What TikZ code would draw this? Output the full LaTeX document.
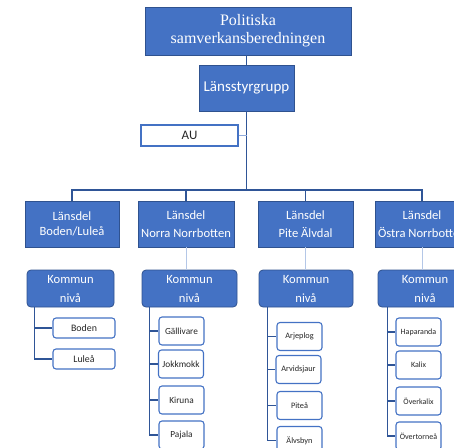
\documentclass[tikz,border=0pt]{standalone}
\usepackage{fontspec}
\setmainfont{Liberation Serif}
\newfontfamily\calibri{Carlito}

\definecolor{boxblue}{HTML}{4472C4}
\definecolor{edgeblue}{HTML}{2F528F}
\definecolor{lineblue}{HTML}{2F5597}
\definecolor{paleline}{HTML}{B4C7E7}
\definecolor{auline}{HTML}{8FAADC}
\definecolor{txtgrey}{HTML}{262626}

\tikzset{
	bluebox/.style={draw=edgeblue, fill=boxblue, line width=0.8pt, text=white, align=center, inner sep=0pt, minimum width=94pt, minimum height=46pt, font=\calibri\fontsize{12.6}{18}\selectfont},
	kommunbox/.style={bluebox, rounded corners=4pt, minimum width=94pt, minimum height=37pt, font=\calibri\fontsize{12.6}{19}\selectfont},
	ortbox/.style={draw=boxblue, fill=white, line width=1.1pt, rounded corners=3pt, inner sep=0pt, text=txtgrey, minimum width=45pt, minimum height=28pt},
	link/.style={draw=lineblue, line width=1.2pt},
	palelink/.style={draw=paleline, line width=0.8pt},
}

\begin{document}
\begin{tikzpicture}[x=1pt,y=1pt,yscale=-1,xscale=1]
			\useasboundingbox (0,0) rectangle (454,447);
			\clip (0,0) rectangle (454,447);
			
			%Shape: Rectangle [top]
			\node [bluebox, minimum width=206pt, minimum height=48pt, font=\fontsize{16}{18}\selectfont] (pol) at (248,31) {Politiska\\samverkansberedningen};
			\node [bluebox, minimum width=95pt, minimum height=46pt, font=\calibri\fontsize{15}{18}\selectfont] (lsg) at (246.5,88) {Länsstyrgrupp};
			\node [draw=boxblue, line width=1.1pt, minimum width=97pt, minimum height=21pt, inner sep=0pt, text=txtgrey, font=\calibri\fontsize{13}{15}\selectfont] (au) at (189.5,135.5) {AU};
			
			%Shape: Rectangle [Länsdel]
			\node [bluebox, font=\calibri\fontsize{12.6}{15.5}\selectfont] (ld1) at (72,224) {Länsdel\\Boden/Luleå};
			\node [bluebox, minimum width=96pt] (ld2) at (186,224) {Länsdel\\Norra Norrbotten};
			\node [bluebox, minimum width=95pt] (ld3) at (305.5,224) {Länsdel\\Pite Älvdal};
			\node [bluebox] (ld4) at (422,224) {Länsdel\\Östra Norrbotten};
			
			%Shape: Rounded Rect [Kommun nivå]
			\node [kommunbox, minimum width=87pt] (km1) at (70.5,288.5) {Kommun\\nivå};
			\node [kommunbox, minimum width=95pt] (km2) at (189.5,288.5) {Kommun\\nivå};
			\node [kommunbox] (km3) at (306,288.5) {Kommun\\nivå};
			\node [kommunbox] (km4) at (425,288.5) {Kommun\\nivå};
			
			%Shape: Rounded Rect [kommuner]
			\node [ortbox, minimum width=62pt, minimum height=20pt, font=\calibri\fontsize{9.9}{11}\selectfont] (boden) at (84,328) {Boden};
			\node [ortbox, minimum width=62pt, minimum height=20pt, font=\calibri\fontsize{9.9}{11}\selectfont] (lulea) at (84,359) {Luleå};
			
			\node [ortbox, font=\calibri\fontsize{9.3}{11}\selectfont] (galli) at (181.5,331) {Gällivare};
			\node [ortbox, font=\calibri\fontsize{9.3}{11}\selectfont] (jokk) at (181,364) {Jokkmokk};
			\node [ortbox, font=\calibri\fontsize{9.3}{11}\selectfont] (kiru) at (181.5,400) {Kiruna};
			\node [ortbox, font=\calibri\fontsize{9.3}{11}\selectfont] (paja) at (181.5,435) {Pajala};
			
			\node [ortbox, font=\calibri\fontsize{8.3}{10}\selectfont] (arje) at (299.5,336.5) {Arjeplog};
			\node [ortbox, font=\calibri\fontsize{8.3}{10}\selectfont] (arvi) at (298.5,369.5) {Arvidsjaur};
			\node [ortbox, font=\calibri\fontsize{8.3}{10}\selectfont] (pitea) at (299.5,405.5) {Piteå};
			\node [ortbox, font=\calibri\fontsize{8.3}{10}\selectfont] (alvs) at (299.5,440.5) {Älvsbyn};
			
			\node [ortbox, font=\calibri\fontsize{8}{10}\selectfont] (hapa) at (418.5,332) {Haparanda};
			\node [ortbox, font=\calibri\fontsize{8}{10}\selectfont] (kalix) at (418.5,365) {Kalix};
			\node [ortbox, font=\calibri\fontsize{8}{10}\selectfont] (okal) at (418.5,401) {Överkalix};
			\node [ortbox, font=\calibri\fontsize{8}{10}\selectfont] (otor) at (418.5,436) {Övertorneå};
			
			%Straight Lines [top]
			\coordinate (bus) at (246.5,190);
			\draw [link] (pol.south -| lsg.north) -- (lsg.north);
			\draw [link, line width=1.6pt] (lsg.south) -- (bus);
			\draw [draw=auline, line width=1pt] (au.east) -- (au.east -| lsg.south);
			
			%Straight Lines [bus]
			\draw [link] (ld1.north) -- (ld1.north |- bus) -- (ld4.north |- bus) -- (ld4.north);
			\draw [link] (ld2.north) -- (ld2.north |- bus);
			\draw [link] (ld3.north) -- (ld3.north |- bus);
			
			%Straight Lines [Länsdel to Kommun]
			\draw [palelink] (ld2.south) -- (ld2.south |- km2.north);
			\draw [palelink] (ld3.south) -- (ld3.south |- km3.north);
			\draw [palelink] (ld4.south) -- (ld4.south |- km4.north);
			
			%Straight Lines [lists]
			\coordinate (k1) at ([xshift=8pt]km1.south west);
			\coordinate (k2) at ([xshift=8pt]km2.south west);
			\coordinate (k3) at ([xshift=9pt]km3.south west);
			\coordinate (k4) at ([xshift=10pt]km4.south west);
			\foreach \n in {boden,lulea} \draw [link] (k1) |- (\n.west);
			\foreach \n in {galli,jokk,kiru,paja} \draw [link] (k2) |- (\n.west);
			\foreach \n in {arje,arvi,pitea,alvs} \draw [link] (k3) |- (\n.west);
			\foreach \n in {hapa,kalix,okal,otor} \draw [link] (k4) |- (\n.west);
			
		\end{tikzpicture}
\end{document}
